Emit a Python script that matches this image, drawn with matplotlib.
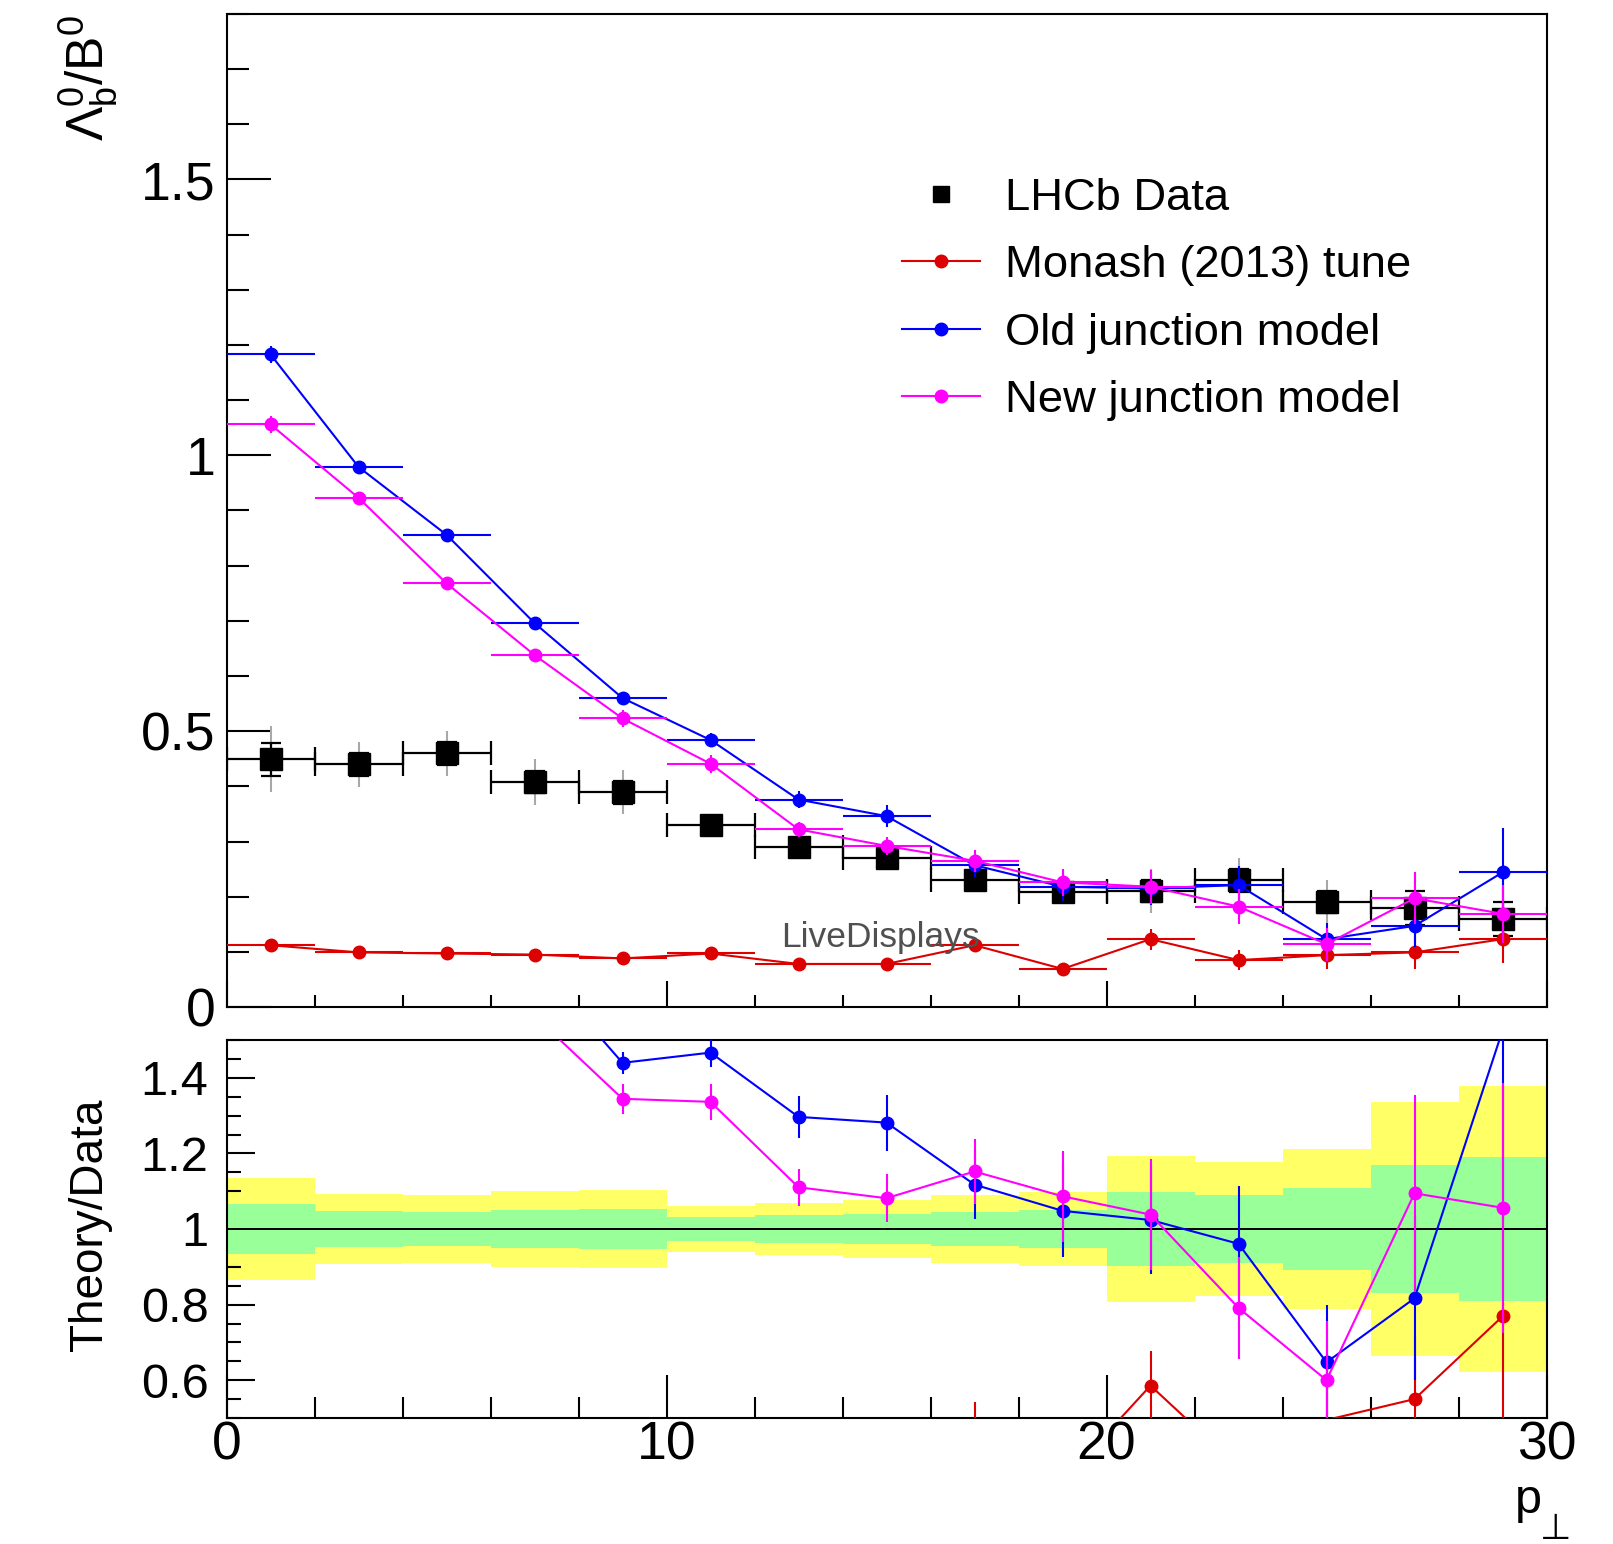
import numpy as np
import matplotlib
matplotlib.use("Agg")
import matplotlib.pyplot as plt
from matplotlib.lines import Line2D
from matplotlib.ticker import MultipleLocator, FuncFormatter

plt.rcParams["font.family"] = ["Liberation Sans", "DejaVu Sans"]
plt.rcParams["mathtext.fontset"] = "custom"
plt.rcParams["mathtext.rm"] = "Liberation Sans"
plt.rcParams["mathtext.it"] = "Liberation Sans:italic"
plt.rcParams["mathtext.default"] = "regular"

# pT binning (GeV)
bin_edges = np.arange(0, 31, 2)

# LHCb Lambda_b / B0 ratio with stat and total uncertainties
data_vals = [0.449, 0.440, 0.460, 0.408, 0.389, 0.330, 0.290, 0.270,
             0.230, 0.208, 0.210, 0.230, 0.190, 0.180, 0.160]
data_stat = [0.030, 0.021, 0.021, 0.020, 0.021, 0.0105, 0.0107, 0.0108,
             0.0106, 0.0102, 0.0204, 0.0207, 0.0205, 0.0306, 0.0304]
data_tot = [0.060, 0.041, 0.041, 0.041, 0.040, 0.0205, 0.0203, 0.0205,
            0.0205, 0.0202, 0.0405, 0.0405, 0.0403, 0.0607, 0.0605]

# Pythia predictions
monash_vals = [0.112, 0.099, 0.097, 0.095, 0.088, 0.097, 0.078, 0.078,
               0.112, 0.069, 0.123, 0.085, 0.094, 0.099, 0.123]
monash_err = [0.004, 0.003, 0.003, 0.003, 0.004, 0.004, 0.005, 0.005,
              0.013, 0.006, 0.019, 0.018, 0.026, 0.030, 0.044]
old_vals = [1.183, 0.979, 0.856, 0.696, 0.560, 0.484, 0.376, 0.346,
            0.257, 0.218, 0.215, 0.221, 0.123, 0.147, 0.244]
old_err = [0.016, 0.008, 0.008, 0.008, 0.011, 0.013, 0.016, 0.020,
           0.021, 0.0255, 0.030, 0.035, 0.029, 0.039, 0.080]
new_vals = [1.056, 0.923, 0.768, 0.638, 0.523, 0.441, 0.322, 0.292,
            0.265, 0.226, 0.218, 0.182, 0.114, 0.197, 0.169]
new_err = [0.015, 0.008, 0.008, 0.008, 0.0155, 0.016, 0.014, 0.017,
           0.020, 0.025, 0.031, 0.031, 0.030, 0.047, 0.053]

models = [
    ("Monash (2013) tune", monash_vals, monash_err, "#dd0000"),
    ("Old junction model", old_vals, old_err, "#0000ff"),
    ("New junction model", new_vals, new_err, "#ff00ff"),
]

RATIO_RANGE = (0.5, 1.5)

W, H = 1613, 1544
fig = plt.figure(figsize=(W / 100, H / 100), dpi=100)
ax = fig.add_axes([226.5 / W, 1 - 1007 / H, 1320 / W, 993 / H])
rax = fig.add_axes([226.5 / W, 1 - 1418 / H, 1320 / W, 378 / H])

xc = 0.5 * (bin_edges[:-1] + bin_edges[1:])
xw = 0.5 * np.diff(bin_edges)
data = np.array(data_vals)

# --- main panel ---
ax.errorbar(xc, data, yerr=data_tot, fmt="none", ecolor="#a8a8a8",
            elinewidth=1.5, zorder=2)
ax.errorbar(xc, data, xerr=xw, fmt="none", ecolor="black", elinewidth=1.6,
            capsize=8.5, capthick=1.6, zorder=3)
ax.errorbar(xc, data, yerr=data_stat, fmt="none", ecolor="black",
            elinewidth=1.6, capsize=7, capthick=1.6, zorder=3)
ax.plot(xc, data, "s", color="black", ms=16, zorder=4)

handles = [Line2D([], [], ls="none", marker="s", color="black", ms=11.5)]
labels = ["LHCb Data"]
for i, (name, vals, errs, col) in enumerate(models):
    z = 5 + i
    ax.errorbar(xc, vals, xerr=xw, yerr=errs, fmt="none", ecolor=col,
                elinewidth=1.5, zorder=z)
    ax.plot(xc, vals, "-o", color=col, lw=1.5, ms=9, zorder=z)
    handles.append(Line2D([], [], color=col, lw=1.5, marker="o", ms=9))
    labels.append(name)

ax.set_xlim(0, 30)
ax.set_ylim(0, 1.8)
ax.yaxis.set_major_locator(MultipleLocator(0.5))
ax.yaxis.set_minor_locator(MultipleLocator(0.1))
ax.xaxis.set_major_locator(MultipleLocator(10))
ax.xaxis.set_minor_locator(MultipleLocator(2))
ax.yaxis.set_major_formatter(FuncFormatter(lambda v, _: f"{v:g}"))
ax.tick_params(which="both", direction="in", top=False, right=False, width=1.5)
ax.tick_params(axis="y", which="major", length=32, pad=8, labelsize=38.5)
ax.tick_params(axis="y", which="minor", length=16)
ax.tick_params(axis="x", which="major", length=19, labelbottom=False)
ax.tick_params(axis="x", which="minor", length=9)

ax.legend(handles, labels, loc="upper left", bbox_to_anchor=(0.5117, 0.835),
          frameon=False, fontsize=32.7, handlelength=1.72, handletextpad=0.55,
          labelspacing=0.58, borderpad=0, borderaxespad=0)

# --- ratio panel ---
rel_stat = np.array(data_stat) / data
rel_tot = np.array(data_tot) / data
rax.bar(xc, 2 * rel_tot, bottom=1 - rel_tot, width=2 * xw, color="#ffff66",
        linewidth=0, zorder=1)
rax.bar(xc, 2 * rel_stat, bottom=1 - rel_stat, width=2 * xw, color="#99ff99",
        linewidth=0, zorder=2)
rax.axhline(1, color="black", lw=1.4, zorder=3)

for i, (name, vals, errs, col) in enumerate(models):
    z = 5 + i
    ratio = np.array(vals) / data
    rerr = np.array(errs) / data
    inside = (ratio >= RATIO_RANGE[0]) & (ratio <= RATIO_RANGE[1])
    rax.errorbar(xc, ratio, yerr=rerr, fmt="none", ecolor=col,
                 elinewidth=1.5, zorder=z)
    rax.plot(xc, ratio, "-", color=col, lw=1.5, zorder=z)
    # markers only for points inside the frame
    rax.plot(xc[inside], ratio[inside], "o", color=col, ms=9, zorder=z)

rax.set_xlim(0, 30)
rax.set_ylim(*RATIO_RANGE)
rax.yaxis.set_major_locator(MultipleLocator(0.2))
rax.yaxis.set_minor_locator(MultipleLocator(0.05))
rax.xaxis.set_major_locator(MultipleLocator(10))
rax.xaxis.set_minor_locator(MultipleLocator(2))
rax.yaxis.set_major_formatter(FuncFormatter(lambda v, _: f"{v:g}"))
rax.tick_params(which="both", direction="in", top=False, right=False, width=1.5)
rax.tick_params(axis="y", which="major", length=20, pad=13, labelsize=35)
rax.tick_params(axis="y", which="minor", length=10)
rax.tick_params(axis="x", which="major", length=31, pad=2, labelsize=38.5)
rax.tick_params(axis="x", which="minor", length=15)

for a in (ax, rax):
    for sp in a.spines.values():
        sp.set_linewidth(1.5)

# axis titles
fig.text(120 / W, 1 - 15 / H, r"$\Lambda_{b}^{0}/B^{0}$", rotation=90,
         ha="right", va="top", fontsize=37)
fig.text(112 / W, 1 - 1225 / H, "Theory/Data", rotation=90,
         ha="right", va="center", fontsize=33)
fig.text(1515 / W, 1 - 1513 / H, "p", ha="left", va="baseline", fontsize=35)
fig.text(1540 / W, 5 / H, "\u22a5", ha="left", va="baseline", fontsize=26,
         family="DejaVu Sans")

fig.text(781 / W, 1 - 947 / H, "LiveDisplays", color="#505050",
         fontsize=25.5, ha="left", va="baseline", zorder=20)

fig.savefig("out.png", dpi=100, facecolor="white")
